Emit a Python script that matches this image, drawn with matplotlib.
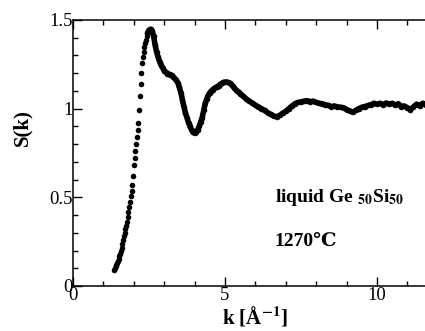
import matplotlib
matplotlib.use("Agg")
import matplotlib.pyplot as plt
from matplotlib.ticker import MultipleLocator, FuncFormatter

# S(k) of liquid Ge50Si50
k_vals = [
    1.350, 1.375, 1.400, 1.425, 1.450, 1.475, 1.500, 1.525, 1.550, 1.575,
    1.600, 1.625, 1.650, 1.675, 1.700, 1.725, 1.750, 1.775, 1.800, 1.825,
    1.850, 1.875, 1.900, 1.925, 1.950, 1.975, 2.000, 2.025, 2.050, 2.075,
    2.100, 2.125, 2.150, 2.175, 2.200, 2.225, 2.250, 2.275, 2.300, 2.325,
    2.350, 2.375, 2.400, 2.425, 2.450, 2.475, 2.500,
    2.55, 2.60, 2.65, 2.70, 2.75, 2.80, 2.85, 2.90, 2.95, 3.00,
    3.05, 3.10, 3.15, 3.20, 3.25, 3.30, 3.35, 3.40, 3.45, 3.50,
    3.55, 3.60, 3.65, 3.70, 3.75, 3.80, 3.85, 3.90, 3.95, 4.00,
    4.05, 4.10, 4.15, 4.20, 4.25, 4.30, 4.35, 4.40, 4.45, 4.50,
    4.55, 4.60, 4.65, 4.70, 4.75, 4.80, 4.85, 4.90, 4.95, 5.00,
    5.05, 5.10, 5.15, 5.20, 5.25, 5.30, 5.35, 5.40, 5.45, 5.50,
    5.6, 5.7, 5.8, 5.9, 6.0, 6.1, 6.2, 6.3, 6.4, 6.5,
    6.6, 6.7, 6.8, 6.9, 7.0, 7.1, 7.2, 7.3, 7.4, 7.5,
    7.6, 7.7, 7.8, 7.9, 8.0, 8.1, 8.2, 8.3, 8.4, 8.5,
    8.6, 8.7, 8.8, 8.9, 9.0, 9.1, 9.2, 9.3, 9.4, 9.5,
    9.6, 9.7, 9.8, 9.9, 10.0, 10.1, 10.2, 10.3, 10.4, 10.5,
    10.6, 10.7, 10.8, 10.9, 11.0, 11.1, 11.2, 11.3, 11.4, 11.5, 11.6,
]
s_vals = [
    0.090, 0.100, 0.110, 0.120, 0.130, 0.142, 0.155, 0.168, 0.182, 0.198,
    0.215, 0.235, 0.258, 0.280, 0.300, 0.320, 0.340, 0.362, 0.390, 0.415,
    0.445, 0.475, 0.505, 0.535, 0.570, 0.620, 0.680, 0.720, 0.760, 0.800,
    0.840, 0.880, 0.920, 0.990, 1.070, 1.140, 1.200, 1.260, 1.290, 1.320,
    1.345, 1.370, 1.390, 1.410, 1.425, 1.435, 1.443,
    1.448, 1.440, 1.410, 1.360, 1.320, 1.290, 1.265, 1.245, 1.230, 1.215,
    1.205, 1.198, 1.195, 1.192, 1.188, 1.178, 1.170, 1.160, 1.145, 1.120,
    1.090, 1.050, 1.010, 0.975, 0.950, 0.920, 0.900, 0.880, 0.866, 0.862,
    0.868, 0.880, 0.900, 0.925, 0.950, 0.990, 1.030, 1.055, 1.075, 1.090,
    1.100, 1.108, 1.115, 1.120, 1.125, 1.130, 1.138, 1.143, 1.148, 1.150,
    1.150, 1.148, 1.145, 1.138, 1.128, 1.118, 1.108, 1.100, 1.092, 1.085,
    1.070, 1.055, 1.042, 1.032, 1.020, 1.010, 1.000, 0.990, 0.978, 0.968,
    0.958, 0.955, 0.962, 0.975, 0.985, 1.000, 1.015, 1.028, 1.035, 1.038,
    1.042, 1.045, 1.040, 1.042, 1.035, 1.030, 1.028, 1.022, 1.018, 1.012,
    1.015, 1.010, 1.008, 1.005, 0.995, 0.988, 0.980, 0.990, 1.000, 1.008,
    1.012, 1.018, 1.022, 1.030, 1.025, 1.030, 1.022, 1.032, 1.025, 1.030,
    1.020, 1.028, 1.012, 1.015, 1.005, 0.995, 1.010, 1.025, 1.015, 1.030, 1.020,
]

x_major = [0, 5, 10]
y_major = [0, 0.5, 1, 1.5]
sample_label = r"liquid Ge $_{50}$Si$_{50}$"
temp_label = "1270\u2103"

plt.rcParams["font.family"] = ["Liberation Serif", "DejaVu Serif"]
plt.rcParams["mathtext.fontset"] = "stix"
plt.rcParams["mathtext.default"] = "bf"


def main():
    fig = plt.figure(figsize=(4.25, 3.31), dpi=100)
    ax = fig.add_axes([73 / 425, 45 / 331, 12 * 30.4 / 425, 266 / 331])

    # dense part drawn as a thick band, every point as a dot
    dense = [i for i, kk in enumerate(k_vals) if kk >= 2.45]
    ax.plot([k_vals[i] for i in dense], [s_vals[i] for i in dense],
            color="black", lw=4.0, solid_capstyle="round",
            solid_joinstyle="round")
    ax.plot(k_vals, s_vals, "o", color="black", ms=4.0, mew=0)

    ax.set_xlim(0, 12)
    ax.set_ylim(0, 1.5)
    ax.set_xticks(x_major)
    ax.set_yticks(y_major)
    ax.xaxis.set_minor_locator(MultipleLocator(1))
    ax.yaxis.set_minor_locator(MultipleLocator(0.1))
    ax.yaxis.set_major_formatter(FuncFormatter(lambda v, p: f"{v:g}"))
    ax.xaxis.set_major_formatter(FuncFormatter(lambda v, p: f"{v:g}"))

    ax.tick_params(which="both", direction="in", top=True, right=True,
                   width=1.0, labelsize=13.5)
    ax.tick_params(which="major", length=6.5)
    ax.tick_params(which="minor", length=3.8)
    ax.tick_params(axis="y", pad=0)
    ax.tick_params(axis="x", pad=1)
    for sp in ax.spines.values():
        sp.set_linewidth(1.1)

    ax.set_xlabel(r"k [Å$^{-1}$]", fontsize=15, fontweight="bold", labelpad=0)
    ax.set_ylabel("S(k)", fontsize=15, fontweight="bold")
    ax.yaxis.set_label_coords(-0.112, 0.594)

    ax.text(6.64, 0.50, sample_label, fontsize=14, fontweight="bold",
            va="center", ha="left")
    ax.text(6.64, 0.25, temp_label, fontsize=14, fontweight="bold",
            va="center", ha="left")

    fig.savefig("out.png", dpi=100)


if __name__ == "__main__":
    main()
